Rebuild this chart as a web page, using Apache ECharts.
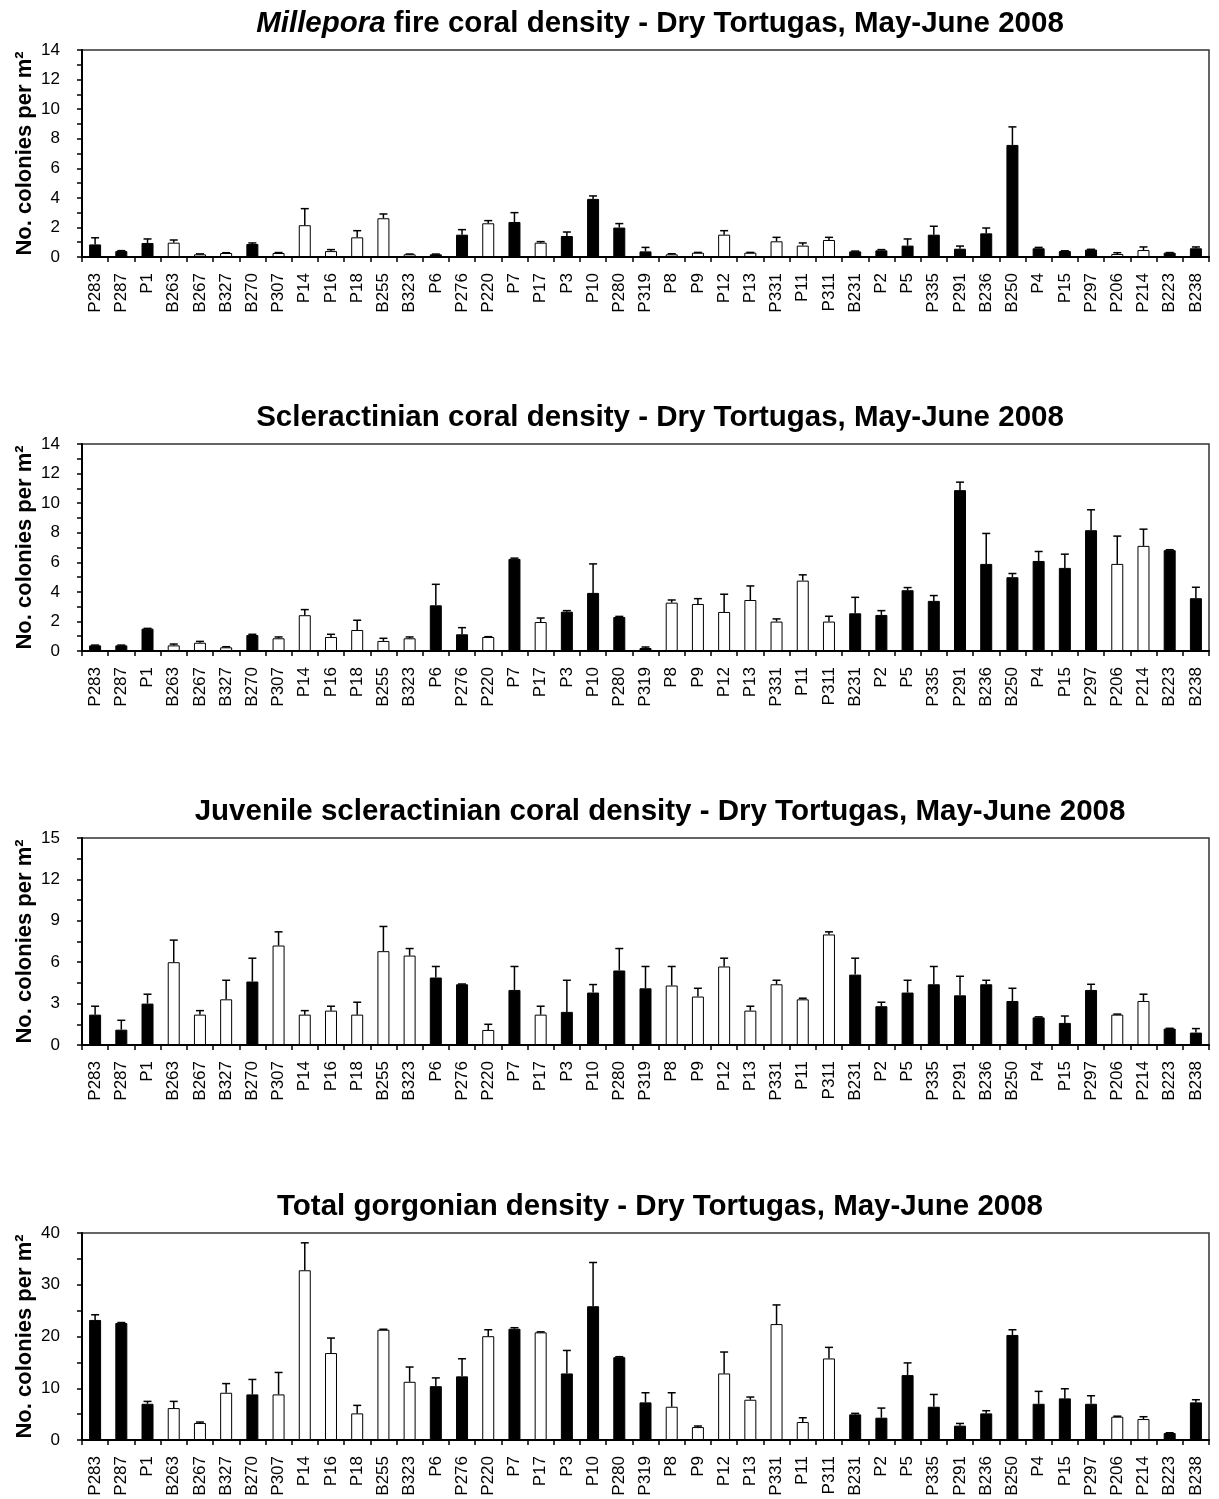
<!DOCTYPE html>
<html>
<head>
<meta charset="utf-8">
<script src="https://cdn.jsdelivr.net/npm/echarts@6/dist/echarts.min.js"></script>
<style>
html,body{margin:0;padding:0;background:#fff;}
#chart{width:1219px;height:1499px;}
</style>
</head>
<body>
<div id="chart"></div>
<script>
const categories = ['P283','P287','P1','B263','B267','B327','B270','P307','P14','P16','P18','B255','B323','P6','P276','P220','P7','P17','P3','P10','P280','P319','P8','P9','P12','P13','P331','P11','P311','B231','P2','P5','P335','P291','B236','B250','P4','P15','P297','P206','P214','B223','B238'];
// sites drawn as solid (black) bars
const filledSites = ['P283','P287','P1','B270','P6','P276','P7','P3','P10','P280','P319','B231','P2','P5','P335','P291','B236','B250','P4','P15','P297','B223','B238'];

const milleporaMean = [0.85,0.4,0.95,0.97,0.18,0.27,0.88,0.27,2.15,0.4,1.33,2.62,0.18,0.18,1.51,2.28,2.37,0.97,1.42,3.93,1.99,0.38,0.18,0.29,1.51,0.29,1.06,0.77,1.15,0.38,0.45,0.77,1.51,0.56,1.6,7.58,0.59,0.4,0.5,0.2,0.47,0.29,0.59];
const milleporaSE   = [0.45,0.03,0.27,0.18,0.03,0.02,0.07,0.03,1.12,0.1,0.45,0.29,0.02,0.02,0.34,0.18,0.63,0.07,0.27,0.2,0.27,0.27,0.04,0.02,0.27,0.02,0.27,0.18,0.18,0.02,0.05,0.45,0.57,0.18,0.36,1.22,0.06,0.02,0.02,0.09,0.21,0.01,0.09];

const scleractMean = [0.38,0.38,1.51,0.38,0.56,0.25,1.08,0.86,2.42,0.95,1.42,0.68,0.86,3.09,1.13,0.95,6.23,1.96,2.66,3.93,2.3,0.2,3.27,3.18,2.64,3.45,1.99,4.76,1.99,2.55,2.44,4.11,3.39,10.88,5.89,4.99,6.09,5.62,8.17,5.89,7.11,6.82,3.57];
const scleractSE   = [0.02,0.02,0.02,0.09,0.09,0.04,0.05,0.09,0.38,0.18,0.66,0.18,0.09,1.42,0.45,0.02,0.05,0.27,0.07,1.96,0.04,0.07,0.18,0.36,1.2,0.95,0.18,0.39,0.36,1.08,0.29,0.18,0.36,0.54,2.06,0.25,0.64,0.93,1.38,1.88,1.13,0.03,0.74];

const juvenileMean = [2.2,1.11,3.0,6.0,2.2,3.31,4.6,7.21,2.2,2.49,2.2,6.8,6.48,4.89,4.4,1.09,3.99,2.2,2.4,3.8,5.4,4.11,4.31,3.51,5.69,2.49,4.4,3.31,8.01,5.1,2.81,3.8,4.4,3.6,4.4,3.19,2.0,1.6,3.99,2.2,3.19,1.19,0.9];
const juvenileSE   = [0.61,0.68,0.68,1.6,0.29,1.38,1.69,0.99,0.29,0.32,0.9,1.79,0.51,0.8,0.02,0.41,1.7,0.61,2.29,0.58,1.59,1.58,1.38,0.6,0.6,0.32,0.29,0.08,0.19,1.19,0.29,0.89,1.29,1.38,0.29,0.92,0.04,0.5,0.41,0.04,0.49,0.02,0.29];

const gorgonianMean = [23.2,22.6,7.0,6.17,3.28,9.13,8.81,8.81,32.8,16.8,5.14,21.3,11.25,10.4,12.3,20.06,21.5,20.8,12.86,25.85,16.0,7.27,6.43,2.5,12.86,7.78,22.4,3.47,15.76,4.95,4.31,12.54,6.43,2.77,5.14,20.3,7.0,8.04,7.0,4.5,4.05,1.35,7.27];
const gorgonianSE   = [1.0,0.1,0.46,1.29,0.19,1.77,2.89,4.24,5.3,2.9,1.55,0.1,2.85,1.6,3.4,1.24,0.2,0.1,4.44,8.45,0.1,1.86,2.7,0.2,4.14,0.52,3.7,0.83,2.14,0.2,1.86,2.36,2.37,0.43,0.52,1.0,2.4,1.86,1.55,0.1,0.45,0.05,0.51];

const panelTitles = [
  '{i|Millepora}{b| fire coral density - Dry Tortugas, May-June 2008}',
  '{b|Scleractinian coral density - Dry Tortugas, May-June 2008}',
  '{b|Juvenile scleractinian coral density - Dry Tortugas, May-June 2008}',
  '{b|Total gorgonian density - Dry Tortugas, May-June 2008}'
];
const yAxisName = 'No. colonies per m\u00B2';
const yMax = [14, 14, 15, 40];
const yStep = [2, 2, 3, 10];

const panels = [
  {mean: milleporaMean, se: milleporaSE},
  {mean: scleractMean, se: scleractSE},
  {mean: juvenileMean, se: juvenileSE},
  {mean: gorgonianMean, se: gorgonianSE}
];

const FONT = '"Liberation Sans", Arial, Helvetica, sans-serif';
const gridTops = [50, 444, 838, 1233];
const gridH = 207;
const TITLE_SIZE = 29.5;

function errRender(params, api) {
  const i = api.value(0), m = api.value(1), s = api.value(2);
  const b = api.coord([i, m]);
  const t = api.coord([i, m + s]);
  const w = 4;
  return {
    type: 'group',
    children: [
      {type: 'line', shape: {x1: b[0], y1: b[1], x2: t[0], y2: t[1]}, style: {stroke: '#000', lineWidth: 1.5}},
      {type: 'line', shape: {x1: t[0] - w, y1: t[1], x2: t[0] + w, y2: t[1]}, style: {stroke: '#000', lineWidth: 1.5}}
    ]
  };
}

const option = {
  backgroundColor: '#fff',
  animation: false,
  title: [], grid: [], xAxis: [], yAxis: [], series: []
};

panels.forEach((p, k) => {
  option.title.push({
    text: panelTitles[k],
    left: 655, top: gridTops[k] - 46, textAlign: 'center',
    textStyle: {
      fontFamily: FONT, fontSize: TITLE_SIZE, fontWeight: 'bold', color: '#000',
      rich: {
        i: {fontFamily: FONT, fontSize: TITLE_SIZE, fontWeight: 'bold', fontStyle: 'italic', color: '#000'},
        b: {fontFamily: FONT, fontSize: TITLE_SIZE, fontWeight: 'bold', color: '#000'}
      }
    }
  });
  option.grid.push({
    left: 82, right: 10, top: gridTops[k], height: gridH,
    show: true, borderColor: '#333', borderWidth: 1.5, backgroundColor: 'transparent'
  });
  option.xAxis.push({
    type: 'category', gridIndex: k, data: categories,
    axisLine: {show: true, lineStyle: {color: '#000', width: 2}},
    axisTick: {show: true, length: 5, lineStyle: {color: '#000', width: 1.5}},
    axisLabel: {rotate: 90, interval: 0, margin: 16, fontFamily: FONT, fontSize: 17, color: '#000'},
    splitLine: {show: false}
  });
  option.yAxis.push({
    type: 'value', gridIndex: k, min: 0, max: yMax[k], interval: yStep[k],
    name: yAxisName, nameLocation: 'middle', nameGap: 46, nameMoveOverlap: false,
    nameTextStyle: {fontFamily: FONT, fontSize: 22, fontWeight: 'bold', color: '#000'},
    axisLine: {show: true, lineStyle: {color: '#000', width: 2}},
    axisTick: {show: true, length: 5, lineStyle: {color: '#000', width: 1.5}},
    minorTick: {show: true, splitNumber: 2, length: 5, lineStyle: {color: '#000', width: 1.5}},
    axisLabel: {margin: 22, fontFamily: FONT, fontSize: 17, color: '#000'},
    splitLine: {show: false}
  });
  option.series.push({
    type: 'bar', xAxisIndex: k, yAxisIndex: k, barWidth: 12,
    data: p.mean.map((v, i) => ({
      value: v,
      itemStyle: {color: filledSites.includes(categories[i]) ? '#000' : '#fff', borderColor: '#000', borderWidth: 1}
    })),
    z: 2
  });
  option.series.push({
    type: 'custom', xAxisIndex: k, yAxisIndex: k, renderItem: errRender,
    data: p.mean.map((v, i) => [i, v, p.se[i]]), z: 3
  });
});

const chart = echarts.init(document.getElementById('chart'), null, {renderer: 'canvas'});
chart.setOption(option);
</script>
</body>
</html>
